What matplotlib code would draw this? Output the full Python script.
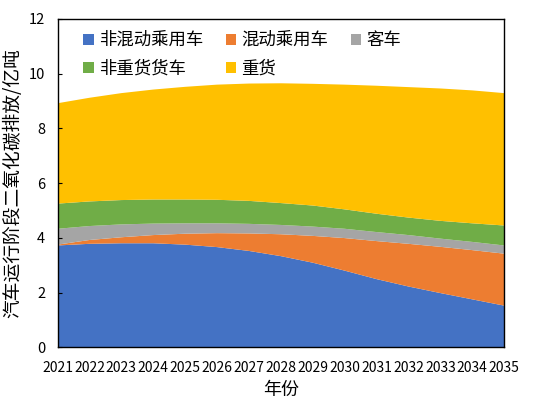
import matplotlib
matplotlib.use("Agg")
import matplotlib.pyplot as plt
import numpy as np

plt.rcParams['font.family'] = ['Noto Sans CJK SC', 'DejaVu Sans']

years = list(range(2021, 2036))
labels = ['非混动乘用车', '混动乘用车', '客车', '非重货货车', '重货']
colors = ['#4472C4', '#ED7D31', '#A5A5A5', '#70AD47', '#FFC000']

# cumulative tops, turned into series below
top_blue = [3.72, 3.78, 3.80, 3.80, 3.75, 3.66, 3.52, 3.33, 3.09, 2.80, 2.49, 2.22, 1.98, 1.75, 1.52]
top_orange = [3.75, 3.92, 4.02, 4.10, 4.15, 4.17, 4.16, 4.13, 4.07, 3.99, 3.88, 3.78, 3.67, 3.55, 3.42]
top_gray = [4.33, 4.43, 4.49, 4.52, 4.53, 4.53, 4.51, 4.47, 4.41, 4.33, 4.21, 4.10, 3.97, 3.85, 3.72]
top_green = [5.25, 5.33, 5.38, 5.40, 5.40, 5.39, 5.35, 5.27, 5.18, 5.04, 4.88, 4.74, 4.62, 4.53, 4.45]
top_total = [8.92, 9.12, 9.29, 9.42, 9.52, 9.60, 9.64, 9.65, 9.63, 9.60, 9.56, 9.51, 9.46, 9.39, 9.29]

tops = np.array([top_blue, top_orange, top_gray, top_green, top_total])
series = np.diff(np.vstack([np.zeros(len(years)), tops]), axis=0)

fig, ax = plt.subplots(figsize=(5.38, 4.0), dpi=100)
fig.subplots_adjust(left=0.107, right=0.937, top=0.9525, bottom=0.132)

polys = ax.stackplot(years, series, colors=colors, labels=labels, linewidth=0)

ax.set_xlim(2021, 2035)
ax.set_ylim(0, 12)
ax.set_xticks(years)
ax.set_xticklabels([str(y) for y in years], fontsize=10)
ax.set_yticks(range(0, 13, 2))
ax.tick_params(axis='y', direction='in', length=3, labelsize=10.5, pad=9)
ax.tick_params(axis='x', length=0, labelsize=10, pad=10)
for s in ax.spines.values():
    s.set_color('black')
    s.set_linewidth(1.0)

ax.set_xlabel('年份', fontsize=13, labelpad=4)
ax.set_ylabel('汽车运行阶段二氧化碳排放/亿吨', fontsize=13.5, labelpad=4)

order = [0, 3, 1, 4, 2]
handles, lbls = ax.get_legend_handles_labels()
ax.legend([handles[i] for i in order], [lbls[i] for i in order], ncol=3,
          loc='upper left', bbox_to_anchor=(0.03, 1.0), frameon=False,
          fontsize=12.5, handlelength=0.6, handleheight=0.6, handletextpad=0.3,
          columnspacing=1.3, labelspacing=0.6, borderaxespad=0.3)

fig.savefig('out.png', dpi=100)
